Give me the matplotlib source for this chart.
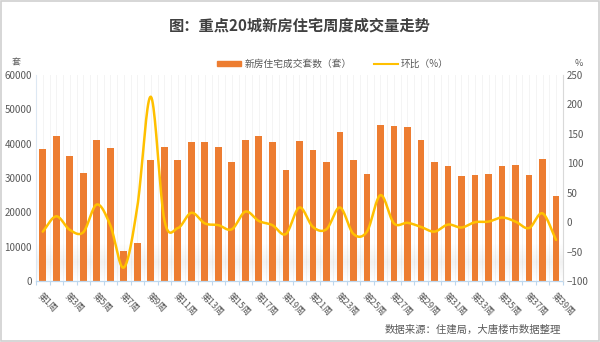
import numpy as np
import matplotlib
matplotlib.use("Agg")
import matplotlib.pyplot as plt
from matplotlib.patches import Rectangle
from matplotlib.lines import Line2D

plt.rcParams['font.family'] = ['Noto Sans CJK SC', 'DejaVu Sans']

title = "图：重点20城新房住宅周度成交量走势"
weeks = [f"第{i}周" for i in range(1, 40)]
volume = [38400, 42300, 36500, 31500, 41000, 38800, 8800, 11100, 35200, 38900,
          35200, 40600, 40400, 39000, 34700, 41000, 42100, 40400, 32200, 40700,
          38100, 34700, 43400, 35200, 31100, 45500, 45200, 44900, 41100, 34700,
          33400, 30700, 30800, 31200, 33600, 33900, 31000, 35500, 24800]
mom = [-16, 10, -13, -17, 30, -5, -77, 26, 213, 4,
       -10, 16, -2, -5, -12, 18, 2, -5, -20, 25,
       -8, -12, 25, -20, -16, 46, -2, -1, -8, -16,
       -4, -9, 0, 1, 8, 1, -10, 15, -30]
bar_label = "新房住宅成交套数（套）"
line_label = "环比（%）"
source = "数据来源：住建局，大唐楼市数据整理"

BAR_C = "#ED7D31"
LINE_C = "#FFC000"
TXT = "#595959"

fig = plt.figure(figsize=(6.0, 3.42), dpi=100)
fig.patch.set_facecolor("white")
ax = fig.add_axes([0.06, 0.178, 0.878, 0.603])
ax2 = ax.twinx()

x = np.arange(len(volume))

# faint vertical grid
for gx in np.arange(-0.5, len(volume), 0.5):
    ax.axvline(gx, color="#f2f2f2", lw=0.6, zorder=0)

# bottom soft shadow gradient
grad = np.linspace(0, 1, 100).reshape(-1, 1)
alpha_prof = np.clip(np.where(grad < 0.5, grad / 0.5, (1 - grad) / 0.5), 0, 1) * 0.10
rgba = np.zeros((100, 1, 4))
rgba[..., :3] = 0.5
rgba[..., 3] = alpha_prof
ax.imshow(rgba, extent=(-0.5, len(volume) - 0.5, 0, 11000), aspect='auto',
          origin='lower', zorder=0.5)

ax.bar(x, volume, width=0.5, color=BAR_C, zorder=2)

# smoothed line (Catmull-Rom through data points)
def catmull(xs, ys, n=20):
    xs = np.asarray(xs, float); ys = np.asarray(ys, float)
    px = np.concatenate([[2 * xs[0] - xs[1]], xs, [2 * xs[-1] - xs[-2]]])
    py = np.concatenate([[2 * ys[0] - ys[1]], ys, [2 * ys[-1] - ys[-2]]])
    ox, oy = [], []
    t = np.linspace(0, 1, n, endpoint=False)
    for i in range(1, len(px) - 2):
        p0, p1, p2, p3 = py[i - 1], py[i], py[i + 1], py[i + 2]
        q0, q1, q2, q3 = px[i - 1], px[i], px[i + 1], px[i + 2]
        def cr(a0, a1, a2, a3):
            return 0.5 * ((2 * a1) + (-a0 + a2) * t + (2 * a0 - 5 * a1 + 4 * a2 - a3) * t ** 2
                          + (-a0 + 3 * a1 - 3 * a2 + a3) * t ** 3)
        ox.extend(cr(q0, q1, q2, q3)); oy.extend(cr(p0, p1, p2, p3))
    ox.append(xs[-1]); oy.append(ys[-1])
    return np.array(ox), np.array(oy)

sx, sy = catmull(x, mom)
ax2.plot(sx, sy, color=LINE_C, lw=1.8, zorder=3, solid_capstyle='round')

ax.set_xlim(-0.5, len(volume) - 0.5)
ax.set_ylim(0, 60000)
ax.set_yticks(np.arange(0, 60001, 10000))
ax2.set_ylim(-100, 250)
ax2.set_yticks(np.arange(-100, 251, 50))

ax.set_xticks(x[::2])
ax.set_xticklabels(weeks[::2], rotation=-45, ha='left', va='top',
                   rotation_mode='anchor', fontsize=6.5, color=TXT)
ax.set_xticks(np.arange(-0.5, len(volume), 1), minor=True)
ax.tick_params(axis='x', which='major', length=0, pad=7)
ax.tick_params(axis='x', which='minor', length=3, color="#bdd7ee", width=0.8)

ax.tick_params(axis='y', length=0, labelsize=7, colors=TXT, pad=3)
ax2.tick_params(axis='y', length=0, labelsize=7, colors=TXT, pad=3)

for a in (ax, ax2):
    for s in a.spines.values():
        s.set_visible(False)
ax.spines['bottom'].set_visible(True)
ax.spines['bottom'].set_color("#bdd7ee")
ax.spines['bottom'].set_linewidth(0.9)
ax.spines['left'].set_visible(True)
ax.spines['left'].set_color("#dde8f3")
ax2.spines['right'].set_visible(True)
ax2.spines['right'].set_color("#d9d9d9")
ax.set_zorder(ax2.get_zorder() - 1)
ax.patch.set_visible(False)

fig.text(0.5, 0.925, title, ha='center', va='center', fontsize=11,
         fontweight='bold', color="#404040")
fig.text(0.02, 0.815, "套", ha='left', va='center', fontsize=6.5, color=TXT)
fig.text(0.958, 0.815, "%", ha='left', va='center', fontsize=6.5, color=TXT)

handles = [Rectangle((0, 0), 1, 1, color=BAR_C),
           Line2D([0], [0], color=LINE_C, lw=1.5)]
fig.legend(handles, [bar_label, line_label], loc='center', bbox_to_anchor=(0.555, 0.813),
           ncol=2, frameon=False, fontsize=7, labelcolor=TXT,
           handlelength=2.5, handleheight=0.55, columnspacing=2.3, handletextpad=0.3)

fig.text(0.935, 0.035, source, ha='right', va='center', fontsize=7.5, color=TXT)

fig.add_artist(Rectangle((0.002, 0.003), 0.996, 0.994, transform=fig.transFigure,
                         fill=False, edgecolor="#d0d0d0", lw=1.2))

fig.savefig("out.png", dpi=100, facecolor="white")
